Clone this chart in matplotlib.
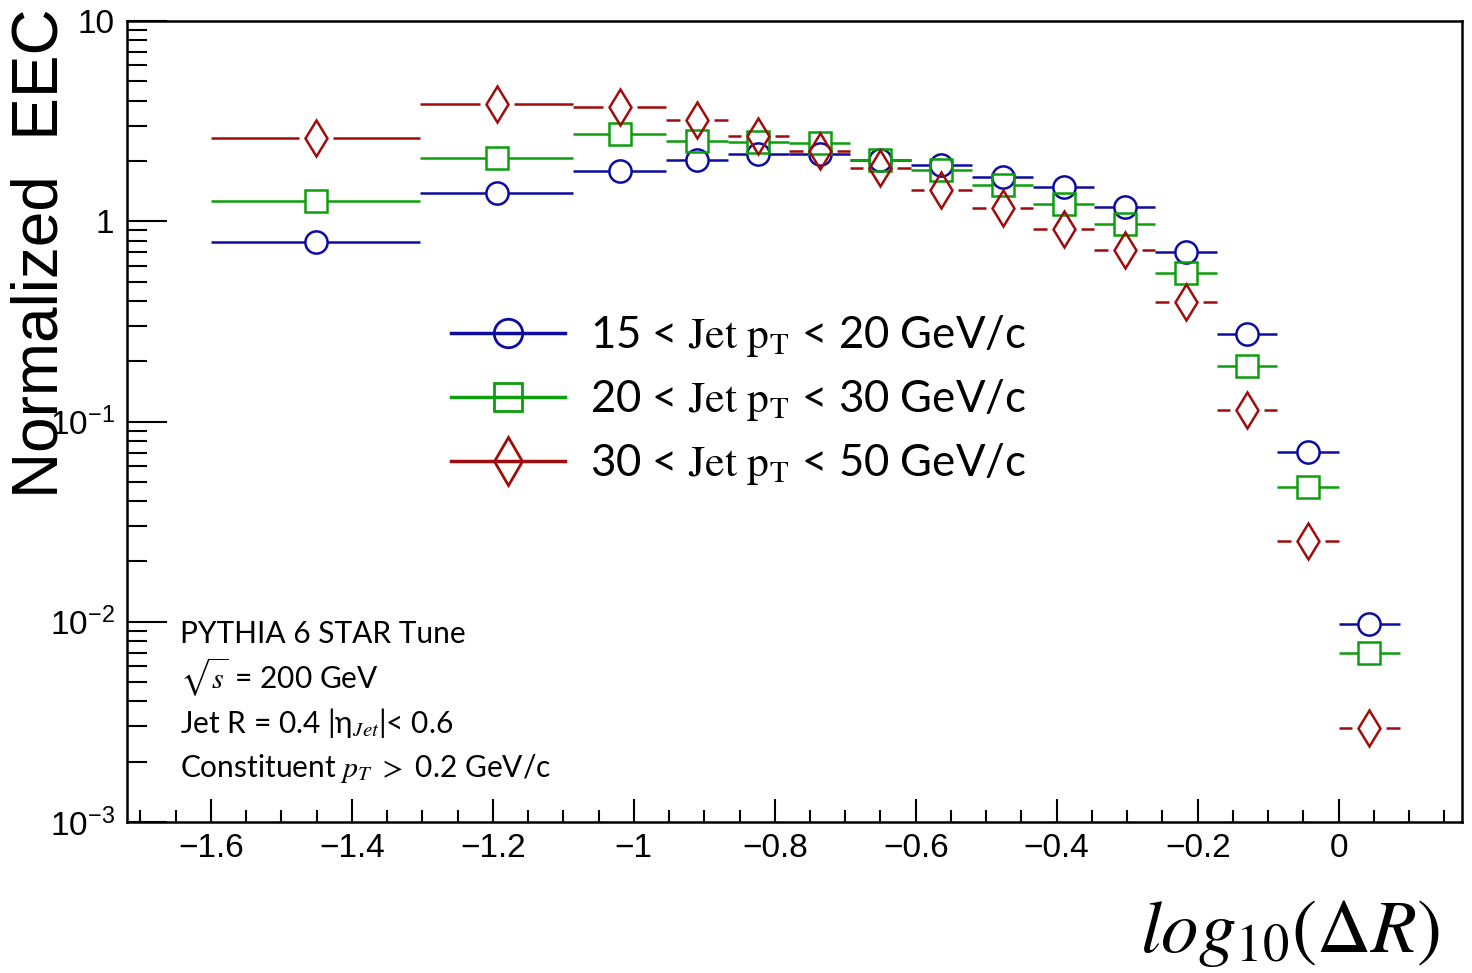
import numpy as np
import matplotlib
matplotlib.use("Agg")
import matplotlib.pyplot as plt
import matplotlib.ticker as mticker
from matplotlib.lines import Line2D
from matplotlib.font_manager import FontProperties

# ---------------------------------------------------------------------------
#  Data
# ---------------------------------------------------------------------------
BIN_EDGES = [-1.600, -1.303, -1.086, -0.954, -0.867, -0.780, -0.693, -0.607,
             -0.520, -0.433, -0.347, -0.260, -0.173, -0.087, 0.000, 0.087]

EEC_15_20 = [0.792, 1.390, 1.776, 2.031, 2.169, 2.169, 2.031, 1.918,
             1.658, 1.478, 1.174, 0.700, 0.272, 0.0702, 0.00970]
EEC_20_30 = [1.268, 2.078, 2.729, 2.506, 2.477, 2.449, 2.031, 1.811,
             1.519, 1.221, 0.971, 0.550, 0.190, 0.0471, 0.00696]
EEC_30_50 = [2.615, 3.864, 3.703, 3.204, 2.676, 2.252, 1.838, 1.439,
             1.161, 0.916, 0.720, 0.394, 0.1137, 0.0254, 0.00294]

SERIES = [EEC_15_20, EEC_20_30, EEC_30_50]
LABELS = [r"15 < $\mathrm{Jet\ p_T}$ < 20 GeV/c",
          r"20 < $\mathrm{Jet\ p_T}$ < 30 GeV/c",
          r"30 < $\mathrm{Jet\ p_T}$ < 50 GeV/c"]

INFO_LINES = ["PYTHIA 6 STAR Tune",
              r"$\sqrt{s}$ = 200 GeV",
              r"Jet R = 0.4 |η${}_{Jet}$|< 0.6",
              r"Constituent $p_T$ $>$ 0.2 GeV/c"]

# ---------------------------------------------------------------------------
#  Style
# ---------------------------------------------------------------------------
COLORS   = ["#0c0ca0", "#0c9e0c", "#a00c0c"]
MARKERS  = ["o", "s", "d"]
MSIZE    = [16, 16, 18.8]       # in-plot marker size [pt]
LEG_MS   = [20.5, 20, 24]       # legend marker size [pt]
GAP_PX   = [11, 11, 17]         # half gap of error bar around marker [px]

TICK_FONT = ["Liberation Sans Narrow", "Liberation Sans"]
TEXT_FONT = ["Lato", "DejaVu Sans"]

XLIM = (-1.719, 0.175)
YLIM = (1e-3, 10)

fig = plt.figure(figsize=(14.72, 9.73), dpi=100)
ax = fig.add_axes([127 / 1472, 1 - 822 / 973, 1335 / 1472, 801 / 973])
ax.set_xlim(*XLIM)
ax.set_yscale("log")
ax.set_ylim(*YLIM)

edges = np.array(BIN_EDGES)
centers = 0.5 * (edges[:-1] + edges[1:])
px_per_unit = ax.bbox.width / (XLIM[1] - XLIM[0])

for vals, c, mk, ms, gap in zip(SERIES, COLORS, MARKERS, MSIZE, GAP_PX):
    vals = np.array(vals)
    g = gap / px_per_unit
    ax.hlines(vals, edges[:-1], centers - g, color=c, lw=1.8)
    ax.hlines(vals, centers + g, edges[1:], color=c, lw=1.8)
    ax.plot(centers, vals, ls="none", marker=mk, ms=ms, mfc="none",
            mec=c, mew=1.8)

# ---------------------------------------------------------------------------
#  Axes cosmetics (ROOT look)
# ---------------------------------------------------------------------------
for s in ax.spines.values():
    s.set_linewidth(1.8)

ax.xaxis.set_major_locator(mticker.MultipleLocator(0.2))
ax.xaxis.set_minor_locator(mticker.MultipleLocator(0.05))
ax.xaxis.set_major_formatter(mticker.FuncFormatter(
    lambda v, p: ("%g" % round(v, 3)).replace("-", "\u2212")))

ax.yaxis.set_major_locator(mticker.LogLocator(base=10))
ax.yaxis.set_minor_locator(mticker.LogLocator(base=10, subs=np.arange(2, 10)))
ax.yaxis.set_minor_formatter(mticker.NullFormatter())


def ylab(v, p):
    e = int(round(np.log10(v)))
    if e == 1:
        return "10"
    if e == 0:
        return "1"
    return r"$\mathregular{10^{%d}}$" % e


ax.yaxis.set_major_formatter(mticker.FuncFormatter(ylab))

ax.tick_params(axis="y", which="major", direction="in", length=29, width=1.5,
               pad=9, left=True, right=False)
ax.tick_params(axis="y", which="minor", direction="in", length=14.4, width=1.5,
               left=True, right=False)
ax.tick_params(axis="x", which="major", direction="in", length=16.5, width=1.5,
               pad=8, bottom=True, top=False)
ax.tick_params(axis="x", which="minor", direction="in", length=8.6, width=1.5,
               bottom=True, top=False)
for lab in ax.get_xticklabels() + ax.get_yticklabels():
    lab.set_fontfamily(TICK_FONT)
    lab.set_fontsize(24)

# axis titles
fig.text(41 / 1472, 1 - 253 / 973, "Normalized  EEC", rotation=90,
         ha="center", va="center", fontsize=46, family="Liberation Sans")
fig.text(1440 / 1472, 1 - 952 / 973, r"$log_{10}(\Delta R)$", ha="right",
         va="baseline", fontsize=54, math_fontfamily="stix")

# legend
handles = [Line2D([], [], color=c, lw=2.5, marker=mk, ms=ms, mfc="none",
                  mec=c, mew=2.0)
           for c, mk, ms in zip(COLORS, MARKERS, LEG_MS)]
leg_prop = FontProperties(family=TEXT_FONT, size=31.5, math_fontfamily="stix")
ax.legend(handles, LABELS, loc="upper left",
          bbox_to_anchor=((451 - 127) / 1335, (822 - 313) / 801),
          frameon=False, prop=leg_prop, handlelength=2.6, handletextpad=0.57,
          labelspacing=0.41, borderpad=0, borderaxespad=0)

# info text
INFO_Y = [643, 689, 733, 777]
for txt, py in zip(INFO_LINES, INFO_Y):
    ax.text((180 - 127) / 1335, (822 - py) / 801, txt, transform=ax.transAxes,
            ha="left", va="baseline", fontsize=21.5, family=TEXT_FONT,
            math_fontfamily="stix")

fig.savefig("out.png", dpi=100)
